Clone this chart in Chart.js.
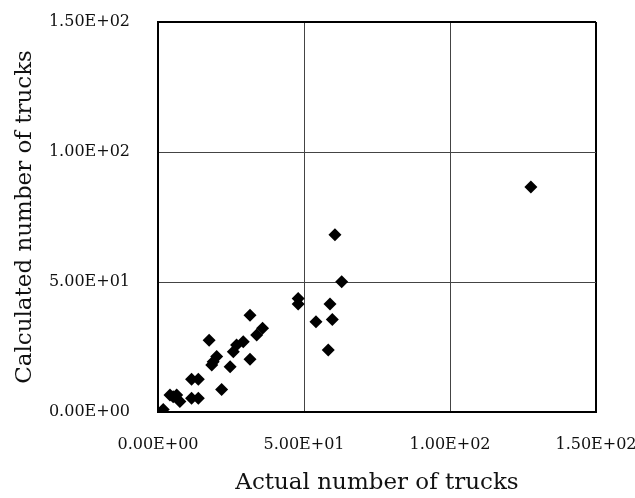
<!DOCTYPE html>
<html lang="en">
<head>
    <meta charset="UTF-8">
    <title>Trucks</title>
    <script src="https://cdn.jsdelivr.net/npm/chart.js@4/dist/chart.umd.min.js"></script>
    <style>
        html, body { margin: 0; padding: 0; background: #fff; }
        #wrap { width: 635px; height: 498px; }
    </style>
</head>
<body>
    <div id="wrap"><canvas id="canvas" width="635" height="498"></canvas></div>
    <script>
        // actual vs calculated number of trucks
        var actualTrucks = [1.8, 4.1, 6.4, 5.2, 7.5, 11.5, 13.8, 11.5, 13.8, 21.8, 17.5, 18.4, 20.1, 18.9, 24.7, 25.8,
            26.9, 29.2, 31.5, 31.5, 33.8, 35.8, 48.0, 48.0, 54.1, 58.9, 59.7, 58.3, 60.6, 62.9, 127.7];
        var calcTrucks = [1.0, 6.5, 6.5, 5.9, 4.0, 12.6, 12.6, 5.3, 5.3, 8.7, 27.6, 18.1, 21.3, 19.3, 17.4, 23.2,
            25.8, 27.0, 20.3, 37.2, 29.6, 32.2, 43.7, 41.5, 34.7, 41.5, 35.6, 23.8, 68.2, 50.1, 86.5];
        var tickValues = [0, 50, 100, 150];

        var points = actualTrucks.map(function (x, i) { return { x: x, y: calcTrucks[i] }; });

        function sci(v) {
            var s = v.toExponential(2).toUpperCase();   // 5.00E+1
            var parts = s.split('E');
            var exp = parseInt(parts[1], 10);
            var sign = exp < 0 ? '-' : '+';
            var e = Math.abs(exp);
            return parts[0] + 'E' + sign + (e < 10 ? '0' + e : e);
        }

        var serif = "'DejaVu Serif', 'Liberation Serif', serif";

        function gridWidth(ctx) {
            return ctx.tick && ctx.tick.value === 150 ? 2 : 1;
        }
        function gridColor(ctx) {
            return ctx.tick && ctx.tick.value === 150 ? '#000' : '#444';
        }

        var ctx = document.getElementById('canvas').getContext('2d');
        window.myChart = new Chart(ctx, {
            type: 'scatter',
            data: {
                datasets: [{
                    data: points,
                    pointStyle: 'rectRot',
                    pointRadius: 6.5,
                    backgroundColor: '#000',
                    borderColor: '#000',
                    borderWidth: 0
                }]
            },
            options: {
                responsive: false,
                animation: false,
                layout: { padding: { top: 22, right: 39, bottom: 0, left: 0 } },
                plugins: { legend: { display: false }, tooltip: { enabled: false } },
                scales: {
                    x: {
                        type: 'linear',
                        min: 0,
                        max: 150,
                        afterBuildTicks: function (s) { s.ticks = tickValues.map(function (v) { return { value: v }; }); },
                        afterFit: function (s) { s.height = 86; s.paddingLeft = 0; s.paddingRight = 0; },
                        grid: { color: gridColor, lineWidth: gridWidth, drawTicks: false },
                        border: { color: '#000', width: 2 },
                        ticks: {
                            padding: 23,
                            maxRotation: 0,
                            color: '#111',
                            font: { family: serif, size: 16 },
                            callback: function (v) { return sci(v); }
                        },
                        title: {
                            display: true,
                            text: 'Actual number of trucks',
                            color: '#111',
                            font: { family: serif, size: 23 },
                            padding: { top: 0, bottom: 1 }
                        }
                    },
                    y: {
                        type: 'linear',
                        min: 0,
                        max: 150,
                        afterBuildTicks: function (s) { s.ticks = tickValues.map(function (v) { return { value: v }; }); },
                        afterFit: function (s) { s.width = 158; s.paddingTop = 0; s.paddingBottom = 0; },
                        grid: { color: gridColor, lineWidth: gridWidth, drawTicks: false },
                        border: { color: '#000', width: 2 },
                        ticks: {
                            padding: 28,
                            color: '#111',
                            font: { family: serif, size: 16 },
                            callback: function (v) { return sci(v); }
                        },
                        title: {
                            display: true,
                            text: 'Calculated number of trucks',
                            color: '#111',
                            font: { family: serif, size: 23 },
                            padding: { top: 11, bottom: 0 }
                        }
                    }
                }
            }
        });
    </script>
</body>
</html>
